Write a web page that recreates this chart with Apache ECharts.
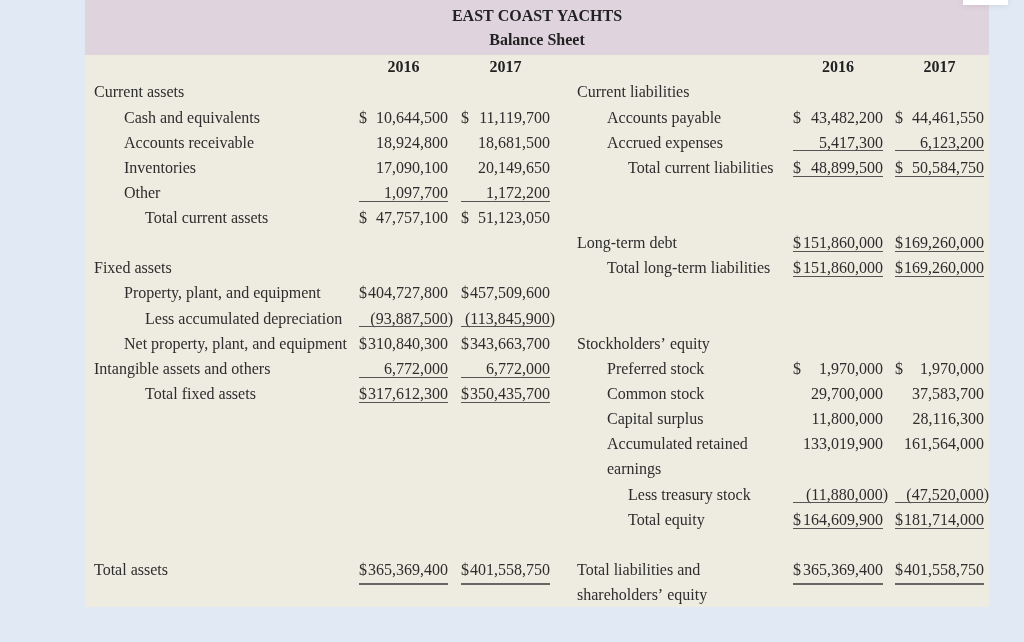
<!DOCTYPE html>
<html>
<head>
<meta charset="utf-8">
<title>East Coast Yachts - Balance Sheet</title>
<script src="https://cdn.jsdelivr.net/npm/echarts@6/dist/echarts.min.js"></script>
<style>
  html, body { margin: 0; padding: 0; background: #e1e9f5; }
  #sheet { width: 1024px; height: 642px; }
</style>
</head>
<body>
<div id="sheet"></div>
<script>
var years = ['2016', '2017'];

var assetLabels = ['Current assets', 'Cash and equivalents', 'Accounts receivable', 'Inventories', 'Other',
    'Total current assets', '', 'Fixed assets', 'Property, plant, and equipment', 'Less accumulated depreciation',
    'Net property, plant, and equipment', 'Intangible assets and others', 'Total fixed assets',
    '', '', '', '', '', '', 'Total assets'];
var assetIndent = [0, 1, 1, 1, 1, 2, 0, 0, 1, 2, 1, 0, 2, 0, 0, 0, 0, 0, 0, 0];
var assets2016 = [null, 10644500, 18924800, 17090100, 1097700, 47757100, null, null, 404727800, -93887500,
    310840300, 6772000, 317612300, null, null, null, null, null, null, 365369400];
var assets2017 = [null, 11119700, 18681500, 20149650, 1172200, 51123050, null, null, 457509600, -113845900,
    343663700, 6772000, 350435700, null, null, null, null, null, null, 401558750];
var assetDollarRows = [1, 5, 8, 10, 12, 19];
var assetRuleRows = [4, 9, 11, 12];
var assetTotalRows = [19];

var liabLabels = ['Current liabilities', 'Accounts payable', 'Accrued expenses', 'Total current liabilities', '', '',
    'Long-term debt', 'Total long-term liabilities', '', '', 'Stockholders\u2019 equity', 'Preferred stock',
    'Common stock', 'Capital surplus', 'Accumulated retained', 'earnings', 'Less treasury stock', 'Total equity',
    '', 'Total liabilities and', 'shareholders\u2019 equity'];
var liabIndent = [0, 1, 1, 2, 0, 0, 0, 1, 0, 0, 0, 1, 1, 1, 1, 1, 2, 2, 0, 0, 0];
var liabs2016 = [null, 43482200, 5417300, 48899500, null, null, 151860000, 151860000, null, null, null,
    1970000, 29700000, 11800000, 133019900, null, -11880000, 164609900, null, 365369400, null];
var liabs2017 = [null, 44461550, 6123200, 50584750, null, null, 169260000, 169260000, null, null, null,
    1970000, 37583700, 28116300, 161564000, null, -47520000, 181714000, null, 401558750, null];
var liabDollarRows = [1, 3, 6, 7, 11, 17, 19];
var liabRuleRows = [2, 3, 6, 7, 16, 17];
var liabTotalRows = [19];

var sides = [
    { labels: assetLabels, indent: assetIndent, values: [assets2016, assets2017],
      dollar: assetDollarRows, rule: assetRuleRows, total: assetTotalRows },
    { labels: liabLabels, indent: liabIndent, values: [liabs2016, liabs2017],
      dollar: liabDollarRows, rule: liabRuleRows, total: liabTotalRows }
];

// ---- layout ----
var layout = {
    labelX: [94, 577],
    indentStep: [0, 30, 51],
    cols: [[[359, 448], [461, 550]], [[793, 883], [895, 984]]],
    parenHang: 5
};
var FONT = '16px "Liberation Serif", "DejaVu Serif", serif';
var BOLD = 'bold 16px "Liberation Serif", "DejaVu Serif", serif';
var INK = '#2d2d2d';

var rowCats = ['header'];
for (var r = 0; r < 21; r++) rowCats.push('r' + r);

var cells = [];
sides.forEach(function (s, si) {
    cells.push([0, 0, si, -1]);
    s.labels.forEach(function (l, i) { cells.push([0, i + 1, si, i]); });
});

function fmt(v) {
    return Math.abs(v).toLocaleString('en-US');
}

function renderCell(params, api) {
    var si = api.value(2), i = api.value(3);
    var y = api.coord([0, api.value(1)])[1];
    var s = sides[si];
    var kids = [];
    if (i < 0) {
        years.forEach(function (yr, c) {
            var col = layout.cols[si][c];
            kids.push({ type: 'text', style: { text: yr, x: (col[0] + col[1]) / 2, y: y, fill: '#222', font: BOLD,
                align: 'center', verticalAlign: 'middle', textAlign: 'center', textVerticalAlign: 'middle' } });
        });
        return { type: 'group', children: kids };
    }
    if (s.labels[i]) {
        kids.push({ type: 'text', style: { text: s.labels[i], x: layout.labelX[si] + layout.indentStep[s.indent[i]],
            y: y, fill: INK, font: FONT, align: 'left', verticalAlign: 'middle',
            textAlign: 'left', textVerticalAlign: 'middle' } });
    }
    s.values.forEach(function (arr, c) {
        var v = arr[i];
        if (v == null) return;
        var col = layout.cols[si][c];
        var neg = v < 0;
        kids.push({ type: 'text', style: { text: neg ? '(' + fmt(v) + ')' : fmt(v),
            x: col[1] + (neg ? layout.parenHang : 0), y: y, fill: INK, font: FONT,
            align: 'right', verticalAlign: 'middle', textAlign: 'right', textVerticalAlign: 'middle' } });
        if (s.dollar.indexOf(i) >= 0) {
            kids.push({ type: 'text', style: { text: '$', x: col[0], y: y, fill: INK, font: FONT,
                align: 'left', verticalAlign: 'middle', textAlign: 'left', textVerticalAlign: 'middle' } });
        }
        if (s.rule.indexOf(i) >= 0) {
            var ly = Math.round(y + 7) + 0.5;
            kids.push({ type: 'line', shape: { x1: col[0], y1: ly, x2: col[1], y2: ly },
                style: { stroke: '#555', lineWidth: 1 } });
        }
        if (s.total.indexOf(i) >= 0) {
            var ty = Math.round(y + 13);
            kids.push({ type: 'line', shape: { x1: col[0], y1: ty, x2: col[1], y2: ty },
                style: { stroke: '#666', lineWidth: 2 } });
        }
    });
    return { type: 'group', children: kids };
}

var chart = echarts.init(document.getElementById('sheet'));
chart.setOption({
    backgroundColor: '#e1e9f5',
    animation: false,
    title: {
        text: 'EAST COAST YACHTS',
        subtext: 'Balance Sheet',
        left: 532,
        top: 3,
        textAlign: 'center',
        itemGap: 6,
        textStyle: { fontFamily: '"Liberation Serif", serif', fontSize: 16, fontWeight: 'bold', color: '#222', lineHeight: 18 },
        subtextStyle: { fontFamily: '"Liberation Serif", serif', fontSize: 16, fontWeight: 'bold', color: '#222', lineHeight: 18 }
    },
    graphic: [
        { type: 'rect', shape: { x: 85, y: 0, width: 904, height: 607 }, style: { fill: '#eeebe1' }, z: -10 },
        { type: 'rect', shape: { x: 85, y: 0, width: 904, height: 55 }, style: { fill: '#dfd3de' }, z: -9 },
        { type: 'rect', shape: { x: 963, y: 0, width: 45, height: 5 },
          style: { fill: '#ffffff', shadowBlur: 6, shadowColor: 'rgba(0,0,0,0.12)' }, z: -8 }
    ],
    grid: { left: 0, right: 0, top: 55.5, height: 553 },
    xAxis: { type: 'value', min: 0, max: 1, show: false },
    yAxis: { type: 'category', data: rowCats, inverse: true, show: false },
    series: [{
        type: 'custom',
        renderItem: renderCell,
        encode: { x: 0, y: 1 },
        clip: false,
        silent: true,
        data: cells
    }]
});
</script>
</body>
</html>
